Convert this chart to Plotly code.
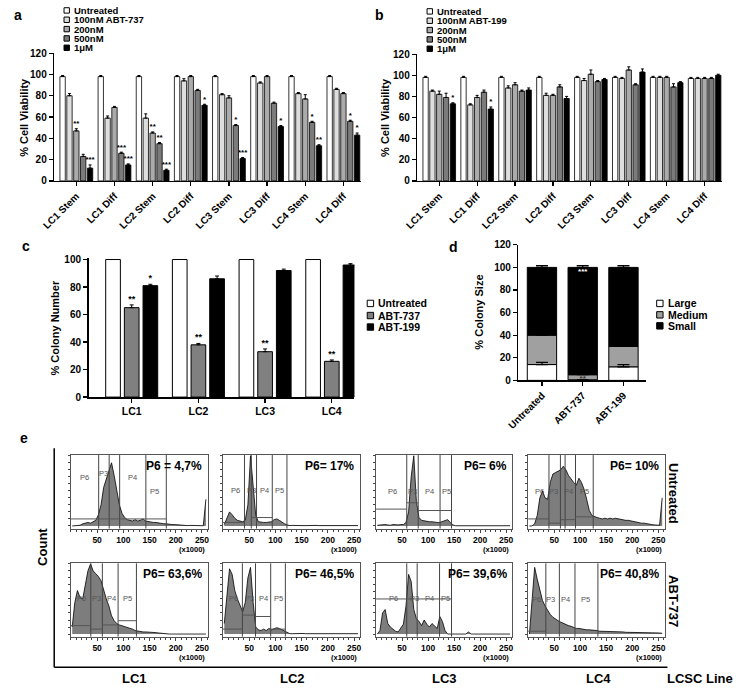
import plotly.graph_objects as go

W, H = 745, 691
FONT = "Liberation Sans, Arial, Helvetica, sans-serif"

# ---------------- Panel a / b data ----------------
lines_ab = ["LC1 Stem", "LC1 Diff", "LC2 Stem", "LC2 Diff", "LC3 Stem", "LC3 Diff", "LC4 Stem", "LC4 Diff"]
a_series = ["Untreated", "100nM ABT-737", "200nM", "500nM", "1\u03bcM"]
a_untreated = [98, 98, 98, 98, 98, 98, 98, 98]
a_100nM = [80, 59, 59, 94, 81, 92, 82, 86]
a_200nM = [47, 69, 45, 98, 78, 98, 77, 82]
a_500nM = [23, 26, 35, 85, 52, 73, 55, 56]
a_1uM = [12, 15, 10, 71, 21, 51, 33, 43]
a_err_untreated = [1, 1, 1, 1, 1, 1, 1, 1]
a_err_100nM = [2, 2, 4, 2, 1, 1, 1, 1]
a_err_200nM = [2, 1, 1, 1, 2, 1, 4, 1]
a_err_500nM = [2, 1, 1, 1, 1, 1, 1, 1]
a_err_1uM = [3, 1, 1, 1, 1, 1, 1, 2]
a_sig_200nM = ["**", "", "**", "", "", "", "", ""]
a_sig_500nM = ["", "***", "**", "", "*", "", "*", "*"]
a_sig_1uM = ["***", "***", "***", "*", "***", "*", "**", "*"]

b_series = ["Untreated", "100nM ABT-199", "200nM", "500nM", "1\u03bcM"]
b_untreated = [98, 98, 98, 98, 98, 98, 98, 97]
b_100nM = [85, 72, 88, 81, 95, 97, 98, 97]
b_200nM = [82, 79, 91, 81, 101, 105, 98, 97]
b_500nM = [79, 84, 85, 89, 94, 91, 89, 97]
b_1uM = [73, 68, 86, 78, 96, 103, 93, 100]
b_err_untreated = [1, 1, 1, 1, 1, 1, 1, 1]
b_err_100nM = [1, 1, 2, 2, 2, 1, 1, 1]
b_err_200nM = [3, 2, 2, 1, 4, 3, 1, 1]
b_err_500nM = [4, 2, 1, 2, 1, 1, 3, 1]
b_err_1uM = [1, 2, 2, 2, 1, 3, 1, 1]
b_sig_1uM = ["*", "*", "", "", "", "", "", ""]

# ---------------- Panel c data ----------------
c_lines = ["LC1", "LC2", "LC3", "LC4"]
c_series = ["Untreated", "ABT-737", "ABT-199"]
c_untreated = [100, 100, 100, 100]
c_abt737 = [65, 38, 33, 26]
c_abt199 = [81, 86, 92, 96]
c_err_abt737 = [2, 1, 2, 1]
c_err_abt199 = [1, 2, 1, 1]
c_sig_abt737 = ["**", "**", "**", "**"]
c_sig_abt199 = ["*", "", "", ""]

# ---------------- Panel d data ----------------
d_cats = ["Untreated", "ABT-737", "ABT-199"]
d_series = ["Large", "Medium", "Small"]
d_large = [14, 0.5, 12]
d_medium = [26, 4.5, 18]
d_small = [60, 95, 70]
d_err_large = [2, 0, 2]
d_err_medium = [3, 3, 2]
d_err_small = [1.5, 1.5, 1.5]
d_sig_medium = ["", "**", ""]
d_sig_small = ["", "***", ""]

# ---------------- Panel e data (FSC histograms, 5k bins, x1000) ----------------
e_bin_starts = [0, 5, 10, 15, 20, 25, 30, 35, 40, 45, 50, 55, 60, 65, 70, 75, 80, 85, 90, 95,
                100, 105, 110, 115, 120, 125, 130, 135, 140, 145, 150, 155, 160, 165, 170, 175,
                180, 185, 190, 195, 200, 205, 210, 215, 220, 225, 230, 235, 240, 245, 250, 255]
e_lines = ["LC1", "LC2", "LC3", "LC4"]
e_rows = ["Untreated", "ABT-737"]
e_LC1_untreated = [0, 0, 0, 1, 3, 4, 5, 4, 6, 8,
                   16, 30, 55, 66, 78, 90, 72, 50, 30, 18,
                   12, 9, 8, 7, 9, 7, 8, 10, 7, 6,
                   6, 5, 5, 4, 4, 3, 3, 2, 2, 2,
                   1.5, 1, 1, 1, 0.5, 0.8, 0.5, 0.5, 0.3, 0.5,
                   0.3, 38]
e_LC2_untreated = [2, 12, 20, 16, 11, 8, 7, 6, 8, 30,
                   100, 55, 15, 6, 5, 5, 5, 5, 6, 9,
                   10, 8, 5, 3, 1.5, 0.5, 0.8, 0.5, 0.5, 0.8,
                   0.5, 0.5, 0.8, 0.5, 0.5, 0.8, 0.5, 0.5, 0.8, 0.5,
                   0.5, 0.8, 0.5, 0.5, 0.8, 0.5, 0.5, 0.5, 0.8, 0.5,
                   0.5, 0.5]
e_LC3_untreated = [1, 1.5, 1, 2, 1.5, 1, 2, 1.5, 1.5, 2,
                   2, 5, 20, 70, 100, 35, 12, 8, 7, 7,
                   6, 6, 5, 5, 5, 6, 8, 9, 5, 1.5,
                   0.3, 0.3, 0.3, 0.3, 0.3, 0.3, 0.3, 0.3, 0.3, 0.3,
                   0.3, 0.3, 0.3, 0.3, 0.3, 0.3, 0.3, 0.3, 0.3, 0.3,
                   0.3, 0.3]
e_LC4_untreated = [0, 0, 3, 15, 40, 50, 40, 38, 62, 74,
                   76, 78, 80, 85, 80, 72, 66, 62, 58, 68,
                   62, 52, 38, 22, 15, 13, 12, 11, 10, 11,
                   10, 11, 10, 11, 10, 9, 9, 8, 8, 7,
                   6, 5, 5, 4, 4, 3, 2, 2, 1.5, 1,
                   1, 40]
e_LC1_abt737 = [10, 45, 62, 52, 50, 70, 90, 100, 90, 86,
                82, 76, 62, 50, 40, 26, 19, 15, 13, 12,
                11, 10, 8, 7, 5, 4, 4, 3, 3, 3,
                2, 2, 2, 1.5, 1, 0.3, 0, 0, 0, 0,
                0, 0, 0, 0, 0, 0, 0, 0, 0, 0,
                0, 0]
e_LC2_abt737 = [15, 60, 93, 85, 62, 50, 40, 32, 45, 80,
                95, 45, 10, 6, 5, 7, 5, 8, 6, 7,
                9, 8, 6, 4, 1.5, 0.5, 0.5, 0.8, 0.5, 0.5,
                0.8, 0.5, 0.5, 0.8, 0.5, 0.5, 0.8, 0.5, 0.5, 0.8,
                0.5, 0.5, 0.8, 0.5, 0.5, 0.8, 0.5, 0.5, 0.8, 0.5,
                0.5, 0.5]
e_LC3_abt737 = [0, 5, 30, 35, 15, 10, 7, 4, 3, 9,
                14, 40, 85, 75, 35, 22, 18, 12, 20, 14,
                10, 15, 12, 8, 25, 18, 5, 0, 0, 0,
                0, 0, 0, 0, 0, 3, 0, 0, 0, 0,
                0, 0, 0, 0, 0, 0, 0, 0, 0, 0,
                0, 0]
e_LC4_abt737 = [0, 50, 95, 78, 62, 48, 40, 33, 28, 24,
                21, 19, 17, 15, 13, 12, 11, 9, 8, 8,
                7, 7, 6, 6, 6, 5, 5, 4, 4, 4,
                4, 3, 3, 3, 3, 3, 3, 2.5, 2.5, 2.5,
                2, 2, 2, 2, 2, 2, 2, 1.5, 1.5, 1.5,
                1.5, 1]
e_p6_text = ["P6 = 4,7%", "P6= 17%", "P6= 6%", "P6= 10%",
             "P6= 63,6%", "P6= 46,5%", "P6= 39,6%", "P6= 40,8%"]
# gate boundaries (x1000), gate baselines (x0, x1, level), gate labels (name, x, level)
e_gate_vlines = [[53, 73, 93, 143, 182], [41, 54, 64, 94, 122], [59, 81, 123, 145], [40, 62, 71, 91, 125],
                 [38, 60, 90, 125], [37, 62, 91, 119], [59, 79, 122, 145], [34, 60, 90, 134]]
e_gate_hlines = [[(0, 182, 10)], [(0, 41, 5), (54, 94, 12)], [(0, 59, 24), (59, 81, 33), (81, 145, 22)],
                 [(0, 40, 10), (40, 62, 4), (62, 91, 9), (91, 125, 13)],
                 [(0, 38, 12), (38, 60, 7), (60, 90, 13), (90, 125, 19)],
                 [(0, 37, 7), (37, 62, 27), (62, 91, 25), (91, 119, 7)],
                 [(0, 145, 50)], [(0, 34, 4)]]
e_gate_labels = [[("P6", 26, 69), ("P3", 62, 75), ("P4", 117, 69), ("P5", 160, 49)],
                 [("P6", 24, 50), ("P3", 55, 50), ("P4", 80, 50), ("P5", 108, 50)],
                 [("P6", 31, 49), ("P3", 70, 49), ("P4", 103, 49), ("P5", 136, 49)],
                 [("P6", 22, 49), ("P3", 49, 49), ("P4", 78, 49), ("P5", 108, 49)],
                 [("P6", 20, 50), ("P3", 48, 50), ("P4", 78, 50), ("P5", 108, 50)],
                 [("P6", 20, 50), ("P3", 50, 50), ("P4", 78, 50), ("P5", 105, 50)],
                 [("P6", 34, 50), ("P3", 73, 50), ("P4", 103, 50), ("P5", 134, 50)],
                 [("P6", 16, 49), ("P3", 43, 49), ("P4", 72, 49), ("P5", 111, 49)]]

# ---------------- helpers ----------------
def PX(px):
    return px / W


def PY(py):
    return 1 - py / H


def dom_x(a, b):
    return [a / W, b / W]


def dom_y(top, bottom):
    return [1 - bottom / H, 1 - top / H]


fig = go.Figure()
shapes = []
annotations = []


def ann(text, px, py, size=11, xanchor="center", yanchor="middle", angle=0, bold=True, color="black"):
    f = dict(family=FONT, size=size, color=color)
    if bold:
        f["weight"] = "bold"
    annotations.append(dict(text=text, x=PX(px), y=PY(py), xref="paper", yref="paper",
                            showarrow=False, xanchor=xanchor, yanchor=yanchor,
                            textangle=angle, font=f))


def legend_box(px0, pyc, size, color, label, fsize):
    shapes.append(dict(type="rect", xref="paper", yref="paper",
                       x0=PX(px0), x1=PX(px0 + size), y0=PY(pyc + size / 2), y1=PY(pyc - size / 2),
                       fillcolor=color, line=dict(color="black", width=1)))
    ann(label, px0 + size + 2.5, pyc, size=fsize, xanchor="left")


axis_common = dict(showline=True, linecolor="black", linewidth=1.5, ticks="outside", ticklen=4,
                   tickwidth=1.2, tickcolor="black", showgrid=False, zeroline=False,
                   tickfont=dict(family=FONT, size=10, color="black", weight="bold"))

shade5 = ["white", "#dedede", "#ababab", "#7b7b7b", "black"]


# ---------------- grouped bars for a & b ----------------
def grouped(xa, ya, vals, errs, sigs):
    n5 = len(vals)
    slot, bw = 0.18, 0.14
    for j in range(n5):
        xs = [i + (j - (n5 - 1) / 2) * slot for i in range(len(vals[j]))]
        fig.add_trace(go.Bar(x=xs, y=vals[j], width=bw, xaxis=xa, yaxis=ya,
                             marker=dict(color=shade5[j], line=dict(color="black", width=0.8)),
                             error_y=dict(type="data", array=errs[j], arrayminus=[0] * len(errs[j]),
                                          symmetric=False, color="black", thickness=1, width=1.5)))
        if sigs[j] is not None:
            fig.add_trace(go.Scatter(x=xs, y=[v + e + 0.5 for v, e in zip(vals[j], errs[j])],
                                     text=sigs[j], mode="text", textposition="top center",
                                     xaxis=xa, yaxis=ya,
                                     textfont=dict(family=FONT, size=8, color="black", weight="bold")))


grouped("x", "y", [a_untreated, a_100nM, a_200nM, a_500nM, a_1uM],
        [a_err_untreated, a_err_100nM, a_err_200nM, a_err_500nM, a_err_1uM],
        [None, None, a_sig_200nM, a_sig_500nM, a_sig_1uM])
grouped("x2", "y2", [b_untreated, b_100nM, b_200nM, b_500nM, b_1uM],
        [b_err_untreated, b_err_100nM, b_err_200nM, b_err_500nM, b_err_1uM],
        [None, None, None, None, b_sig_1uM])

# ---------------- panel c ----------------
c_vals = [c_untreated, c_abt737, c_abt199]
c_errs = [[0, 0, 0, 0], c_err_abt737, c_err_abt199]
c_sigs = [None, c_sig_abt737, c_sig_abt199]
c_cols = ["white", "#808080", "black"]
for j in range(3):
    xs = [i + (j - 1) * 0.28 for i in range(4)]
    fig.add_trace(go.Bar(x=xs, y=c_vals[j], width=0.22, xaxis="x3", yaxis="y3",
                         marker=dict(color=c_cols[j], line=dict(color="black", width=1)),
                         error_y=dict(type="data", array=c_errs[j], arrayminus=[0] * 4, symmetric=False,
                                      color="black", thickness=1, width=2, visible=j > 0)))
    if c_sigs[j] is not None:
        fig.add_trace(go.Scatter(x=xs, y=[v + e + 0.5 for v, e in zip(c_vals[j], c_errs[j])],
                                 text=c_sigs[j], mode="text", textposition="top center",
                                 xaxis="x3", yaxis="y3",
                                 textfont=dict(family=FONT, size=9, color="black", weight="bold")))

# ---------------- panel d (stacked via base) ----------------
d_x = [0, 1, 2]
d_base_medium = d_large
d_base_small = [l + m for l, m in zip(d_large, d_medium)]
d_top_small = [b + s for b, s in zip(d_base_small, d_small)]
for vals, base, col in [(d_large, None, "white"), (d_medium, d_base_medium, "#a0a0a0"),
                        (d_small, d_base_small, "black")]:
    fig.add_trace(go.Bar(x=d_x, y=vals, base=base, width=0.72, xaxis="x4", yaxis="y4",
                         marker=dict(color=col, line=dict(color="black", width=1))))
for tops, errs in [(d_large, d_err_large), (d_base_small, d_err_medium), (d_top_small, d_err_small)]:
    fig.add_trace(go.Scatter(x=d_x, y=tops, mode="markers", marker=dict(size=0.1, color="black"),
                             xaxis="x4", yaxis="y4",
                             error_y=dict(type="data", array=errs, arrayminus=[0, 0, 0], symmetric=False,
                                          color="black", thickness=1.2, width=6)))
fig.add_trace(go.Scatter(x=d_x, y=[1.5, 1.5, 1.5], text=d_sig_medium, mode="text",
                         xaxis="x4", yaxis="y4",
                         textfont=dict(family=FONT, size=8, color="#333", weight="bold")))
fig.add_trace(go.Scatter(x=d_x, y=[95.5, 95.5, 95.5], text=d_sig_small, mode="text",
                         xaxis="x4", yaxis="y4",
                         textfont=dict(family=FONT, size=8, color="white", weight="bold")))

layout = dict(width=W, height=H, margin=dict(l=0, r=0, t=0, b=0), showlegend=False,
              paper_bgcolor="white", plot_bgcolor="white", barmode="overlay",
              font=dict(family=FONT, color="black"))

layout["xaxis"] = dict(axis_common, domain=dom_x(42, 355), range=[-0.58, 7.47], anchor="y",
                       tickmode="array", tickvals=list(range(8)), ticktext=lines_ab, tickangle=-45)
layout["yaxis"] = dict(axis_common, domain=dom_y(48, 178), range=[0, 120], dtick=20, anchor="x")
layout["xaxis2"] = dict(axis_common, domain=dom_x(412, 723), range=[-0.58, 7.47], anchor="y2",
                        tickmode="array", tickvals=list(range(8)), ticktext=lines_ab, tickangle=-45)
layout["yaxis2"] = dict(axis_common, domain=dom_y(49, 178), range=[0, 120], dtick=20, anchor="x2")
layout["xaxis3"] = dict(axis_common, domain=dom_x(77, 348), range=[-0.647, 3.34], anchor="y3",
                        tickmode="array", tickvals=list(range(4)), ticktext=c_lines,
                        tickfont=dict(family=FONT, size=10.5, color="black", weight="bold"))
layout["yaxis3"] = dict(axis_common, domain=dom_y(256.6, 398), range=[0, 101], tickvals=[0, 20, 40, 60, 80, 100],
                        anchor="x3")
layout["xaxis4"] = dict(axis_common, domain=dom_x(515, 645), range=[-0.58, 2.55], anchor="y4",
                        tickmode="array", tickvals=d_x, ticktext=d_cats, tickangle=-45)
layout["yaxis4"] = dict(axis_common, domain=dom_y(243, 381), range=[0, 120], dtick=20, anchor="x4")

# ---------------- panel e ----------------
e_hists = [e_LC1_untreated, e_LC2_untreated, e_LC3_untreated, e_LC4_untreated,
           e_LC1_abt737, e_LC2_abt737, e_LC3_abt737, e_LC4_abt737]
cols_px = [(59, 199), (214, 354), (370, 509), (525, 664)]
rows_px = [(457, 532), (567, 642)]
centers = [b + 2.5 for b in e_bin_starts]
for r in range(2):
    for c in range(4):
        k = r * 4 + c
        n = 5 + k
        xa, ya = "x%d" % n, "y%d" % n
        fig.add_trace(go.Scatter(x=centers, y=e_hists[k], mode="lines", xaxis=xa, yaxis=ya,
                                 line=dict(color="black", width=0.8), fill="tozeroy",
                                 fillcolor="#7d7d7d"))
        x0, x1 = cols_px[c]
        t, b = rows_px[r]
        layout["xaxis%d" % n] = dict(domain=dom_x(x0, x1), range=[0, 262], anchor=ya,
                                     showline=True, mirror=True, linecolor="#555", linewidth=1,
                                     showgrid=False, zeroline=False, ticks="outside", ticklen=3,
                                     tickcolor="#444", tickmode="array", tickvals=[50, 100, 150, 200, 250],
                                     tickfont=dict(family=FONT, size=8.5, color="black", weight="bold"),
                                     minor=dict(tickmode="linear", tick0=0, dtick=10, ticks="outside",
                                                ticklen=2, tickcolor="#444"))
        layout["yaxis%d" % n] = dict(domain=dom_y(t, b), range=[-4, 101], anchor=xa,
                                     showline=True, mirror=True, linecolor="#555", linewidth=1,
                                     showgrid=False, zeroline=False, ticks="outside", ticklen=2,
                                     tickcolor="#444", dtick=10, tick0=0, showticklabels=False)
        for g in e_gate_vlines[k]:
            shapes.append(dict(type="line", xref=xa, yref=ya, x0=g, x1=g, y0=-4, y1=101,
                               line=dict(color="#444", width=1)))
        for (g0, g1, lv) in e_gate_hlines[k]:
            shapes.append(dict(type="line", xref=xa, yref=ya, x0=g0, x1=g1, y0=lv, y1=lv,
                               line=dict(color="#555", width=1)))
        for (name, gx, gy) in e_gate_labels[k]:
            annotations.append(dict(text=name, x=gx, y=gy, xref=xa, yref=ya, showarrow=False,
                                    font=dict(family=FONT, size=7.5, color="#555")))
        ann(e_p6_text[k], x1 - 4, t + 11, size=12, xanchor="right")
        ann("(x1000)", x1 - 1, b + 21, size=7.5, xanchor="right")

fig.update_layout(**layout)

# panel e frame
shapes.append(dict(type="line", xref="paper", yref="paper", x0=PX(42), x1=PX(42), y0=PY(450), y1=PY(673),
                   line=dict(color="black", width=1.5)))
shapes.append(dict(type="line", xref="paper", yref="paper", x0=PX(42), x1=PX(667), y0=PY(673), y1=PY(673),
                   line=dict(color="black", width=1.5)))

# ---------------- legends ----------------
for i, (lab, py) in enumerate(zip(a_series, [4.5, 14, 23.5, 33, 42.5])):
    legend_box(52, py, 5.5, shade5[i], lab, 9.5)
for i, (lab, py) in enumerate(zip(b_series, [5.5, 15, 24.5, 34, 43.5])):
    legend_box(422, py, 5.5, shade5[i], lab, 9.5)
for i, (lab, py) in enumerate(zip(c_series, [302.7, 315, 326.7])):
    legend_box(361, py, 6.5, c_cols[i], lab, 10.5)
for i, (lab, py) in enumerate(zip(d_series, [302.7, 314.3, 325.5])):
    legend_box(656, py, 6.5, ["white", "#a0a0a0", "black"][i], lab, 10.5)

# ---------------- titles & labels ----------------
ann("a", 5, 9, size=14)
ann("b", 374, 9, size=14)
ann("c", 13, 244, size=14)
ann("d", 449, 245, size=14)
ann("e", 11, 440, size=14)
ann("% Cell Viability", 11, 113, size=11, angle=-90)
ann("% Cell Viability", 379, 113, size=11, angle=-90)
ann("% Colony Number", 43, 328, size=11, angle=-90)
ann("% Colony Size", 475, 312, size=11, angle=-90)
ann("Count", 30, 550, size=13, angle=-90)
for lab, px in zip(e_lines, [124, 285, 440, 597]):
    ann(lab, px, 684, size=13)
ann("LCSC Line", 700, 684, size=13)
ann(e_rows[0], 673, 496, size=13, angle=90)
ann(e_rows[1], 673, 606, size=13, angle=90)

fig.update_layout(shapes=shapes, annotations=annotations)
fig.write_html("out.html", config={"displayModeBar": False, "staticPlot": True},
               post_script="document.body.style.margin='0';document.body.style.overflow='hidden';")
